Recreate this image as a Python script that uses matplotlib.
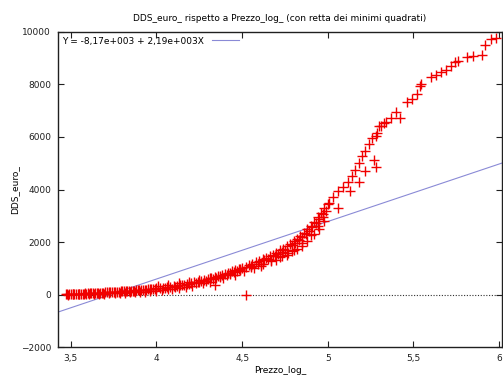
import numpy as np
import matplotlib.pyplot as plt

# punti
prezzo_log = [
    3.47, 3.48, 3.49, 3.50, 3.51, 3.52, 3.53, 3.54, 3.55, 3.56, 3.57, 3.58, 3.59,
    3.60, 3.61, 3.62, 3.63, 3.64, 3.65, 3.66, 3.67, 3.68, 3.69, 3.70, 3.71, 3.72,
    3.73, 3.74, 3.75, 3.76, 3.77, 3.78, 3.79, 3.80, 3.81, 3.82, 3.83, 3.84, 3.85,
    3.86, 3.87, 3.88, 3.89, 3.90, 3.91, 3.92, 3.93, 3.94, 3.95, 3.96, 3.97, 3.98,
    3.99, 4.00,
    4.02, 4.04, 4.05, 4.06, 4.08, 4.10, 4.11, 4.12, 4.14, 4.15, 4.16, 4.18, 4.19,
    4.20, 4.22, 4.23, 4.24, 4.25, 4.26, 4.28, 4.29, 4.30, 4.32, 4.33, 4.34, 4.35,
    4.36, 4.37, 4.38, 4.40, 4.41, 4.42, 4.43, 4.44, 4.45, 4.46, 4.47, 4.48, 4.49,
    4.50, 4.34, 4.52,
    4.52, 4.54, 4.55, 4.56, 4.58, 4.59, 4.60, 4.62, 4.63, 4.64, 4.65, 4.66, 4.68,
    4.69, 4.70, 4.71, 4.72, 4.73, 4.74, 4.75, 4.76, 4.78, 4.79, 4.80, 4.81, 4.82,
    4.83, 4.84, 4.85, 4.86, 4.87, 4.88, 4.89, 4.90, 4.91, 4.92, 4.93, 4.94, 4.95,
    4.96, 4.97, 4.98, 4.99, 5.00,
    4.62, 4.70, 4.76, 4.82, 4.88, 4.92, 4.95, 4.98,
    5.006, 5.03, 5.06, 5.09, 5.12, 5.14, 5.16, 5.18, 5.20, 5.22, 5.24, 5.26,
    5.285, 5.31, 5.33,
    5.06, 5.13, 5.18, 5.22, 5.28, 5.27,
    5.28, 5.30, 5.34, 5.37, 5.40, 5.42, 5.46, 5.49, 5.52, 5.54, 5.545, 5.60,
    5.63, 5.66, 5.69, 5.72, 5.74, 5.76, 5.81, 5.85, 5.90, 5.92, 5.955, 5.98,
    # banda inferiore, piu' fitta
    3.485, 3.515, 3.545, 3.575, 3.605, 3.635, 3.665, 3.695, 3.725, 3.755,
    3.785, 3.815, 3.845, 3.875, 3.905, 3.935, 3.965, 3.995, 4.03, 4.07,
    4.09, 4.13, 4.17, 4.21, 4.27, 4.31, 4.39, 4.46, 4.51, 4.57, 4.61, 4.67,
    4.72, 4.77, 4.80, 4.85, 4.90, 4.94, 4.97,
    4.01, 4.07, 4.13, 4.19, 4.25, 4.31, 4.37, 4.43, 4.49, 4.55, 4.61, 4.67,
    4.73, 4.79, 4.85,
]
dds_euro = [
    10, 15, 12, 20, 18, 25, 22, 30, 28, 35, 33, 40, 38,
    45, 48, 52, 50, 58, 60, 65, 62, 70, 75, 80, 78, 85,
    90, 95, 100, 98, 105, 110, 115, 120, 118, 125, 130, 140, 135,
    145, 150, 160, 155, 165, 170, 180, 175, 190, 200, 195, 210, 220,
    215, 230,
    240, 260, 250, 280, 300, 320, 300, 340, 360, 350, 380, 410, 390,
    430, 460, 440, 490, 470, 520, 550, 520, 590, 620, 600, 660, 640,
    700, 680, 740, 790, 760, 830, 800, 880, 850, 920, 900, 960, 990,
    1010, 380, 0,
    1060, 1110, 1080, 1160, 1220, 1180, 1280, 1340, 1300, 1400, 1350, 1460, 1520,
    1480, 1600, 1550, 1680, 1620, 1750, 1700, 1830, 1920, 1880, 2020, 1980, 2120,
    2080, 2230, 2180, 2350, 2300, 2480, 2420, 2620, 2560, 2780, 2720, 2950, 2880,
    3100, 3050, 3280, 3200, 3450,
    1150, 1300, 1500, 1750, 2050, 2300, 2500, 2800,
    3500, 3700, 3930, 4100, 4300, 4520, 4760, 5000, 5260, 5480, 5720, 5950,
    6170, 6400, 6550,
    3310, 3930, 4300, 4690, 4840, 5140,
    6020, 6400, 6590, 6740, 6970, 6740, 7320, 7450, 7620, 7930, 8000, 8270,
    8380, 8480, 8570, 8700, 8840, 8880, 9030, 9070, 9140, 9520, 9720, 9790,
    0, 5, 10, 12, 20, 25, 30, 38, 45, 55,
    60, 70, 78, 85, 95, 105, 115, 130, 160, 200,
    220, 260, 300, 340, 420, 480, 620, 760, 880, 1000, 1100, 1280,
    1420, 1580, 1700, 1950, 2250, 2600, 2950,
    310, 360, 420, 480, 560, 640, 720, 820, 930, 1040, 1180, 1330,
    1480, 1650, 1830,
]

# retta dei minimi quadrati
a = -8.17e3
b = 2.19e3

x_lim = (3.425, 6.017)
y_lim = (-2000, 10000)

fig = plt.figure(figsize=(5.03, 3.79), dpi=100)
fig.set_facecolor('white')
ax = fig.add_axes([0.1153, 0.0844, 0.8827, 0.8312])

ax.axhline(0, color='#303030', linestyle=(0, (1, 1.5)), linewidth=0.8, zorder=1)

ax.plot(prezzo_log, dds_euro, linestyle='none', marker='+',
        markersize=7, markeredgewidth=1.0, color='#f00000', zorder=3)

xx = np.array(x_lim)
ax.plot(xx, a + b * xx, color='#8a8ad6', linewidth=0.8, zorder=2,
        label='Y = -8,17e+003 + 2,19e+003X')

ax.set_xlim(*x_lim)
ax.set_ylim(*y_lim)
ax.set_xticks([3.5, 4, 4.5, 5, 5.5, 6])
ax.set_xticklabels(['3,5', '4', '4,5', '5', '5,5', '6'])
ax.set_yticks([-2000, 0, 2000, 4000, 6000, 8000, 10000])
ax.tick_params(direction='in', length=4, width=0.8, labelsize=6.5,
               top=True, right=True, colors='#202020', pad=5)
for s in ax.spines.values():
    s.set_linewidth(1.0)
    s.set_color('#202020')

ax.set_title('DDS_euro_ rispetto a Prezzo_log_ (con retta dei minimi quadrati)',
             fontsize=6.5, pad=8)
ax.set_xlabel('Prezzo_log_', fontsize=6.5, labelpad=2)
ax.set_ylabel('DDS_euro_', fontsize=6.5, labelpad=1)

leg = ax.legend(loc='upper left', markerfirst=False, frameon=False,
                fontsize=6.5, handlelength=3, borderaxespad=0.2,
                borderpad=0.3)

fig.savefig('out.png', dpi=100)
